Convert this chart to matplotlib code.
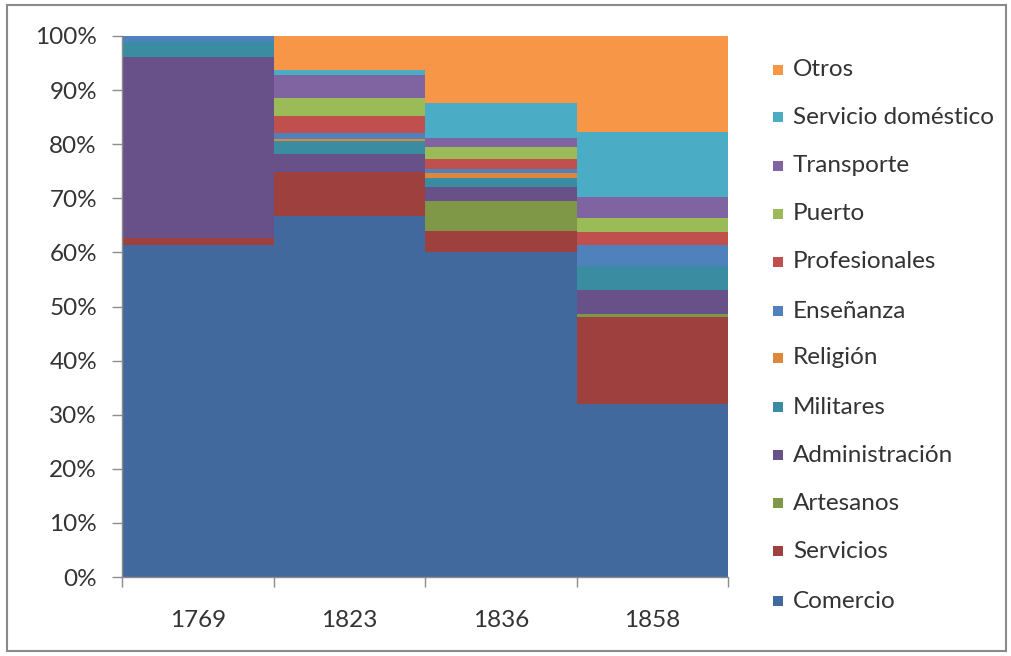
import matplotlib
matplotlib.use("Agg")
import matplotlib.pyplot as plt
from matplotlib.patches import Rectangle
from matplotlib.ticker import FuncFormatter, FixedLocator
import numpy as np

# Occupational structure by year (% of total), bottom to top of each column
years = ["1769", "1823", "1836", "1858"]
series = ["Comercio", "Servicios", "Artesanos", "Administración", "Militares",
          "Religión", "Enseñanza", "Profesionales", "Puerto", "Transporte",
          "Servicio doméstico", "Otros"]

comercio       = [61.4, 66.7, 60.1, 32.0]
servicios      = [1.2, 8.2, 3.9, 16.1]
artesanos      = [0.0, 0.0, 5.5, 0.5]
administracion = [33.5, 3.3, 2.6, 4.4]
militares      = [2.7, 2.3, 1.7, 4.4]
religion       = [0.0, 0.5, 0.9, 0.0]
ensenanza      = [1.2, 1.1, 0.7, 4.0]
profesionales  = [0.0, 3.1, 1.9, 2.4]
puerto         = [0.0, 3.3, 2.1, 2.6]
transporte     = [0.0, 4.2, 1.7, 3.8]
serv_domestico = [0.0, 1.0, 6.6, 12.1]
otros          = [0.0, 6.3, 12.3, 17.7]

values = [comercio, servicios, artesanos, administracion, militares, religion,
          ensenanza, profesionales, puerto, transporte, serv_domestico, otros]

colors = ["#42699D", "#9E413E", "#7E9847", "#685088", "#3A8CA1", "#DD873B",
          "#4F81BD", "#C0504D", "#9BBB59", "#8064A2", "#4BACC6", "#F79646"]

plt.rcParams["font.family"] = ["Lato", "DejaVu Sans"]
text_color = "#333333"
axis_color = "#8C8C8C"
fs = 17.5

W, H = 1011, 656
fig = plt.figure(figsize=(W / 100, H / 100), dpi=100)
fig.patch.set_facecolor("white")

ax = fig.add_axes([122 / W, (H - 577) / H, (728 - 122) / W, (577 - 36) / H])

x = np.arange(len(years))
bottom = np.zeros(len(years))
for name, vals, col in zip(series, values, colors):
    v = np.array(vals, dtype=float)
    ax.bar(x, v, width=1.0, bottom=bottom, color=col, edgecolor="none",
           label=name, align="center")
    bottom += v

ax.set_xlim(-0.5, len(years) - 0.5)
ax.set_ylim(0, 100)

ax.yaxis.set_major_locator(FixedLocator(np.arange(0, 101, 10)))
ax.yaxis.set_major_formatter(FuncFormatter(lambda v, p: f"{int(v)}%"))
ax.set_xticks(x)
ax.set_xticklabels(years)
ax.set_xticks(np.arange(-0.5, len(years)), minor=True)

ax.tick_params(axis="y", which="major", length=7, width=1, color=axis_color,
               labelsize=fs, labelcolor=text_color, pad=11)
ax.tick_params(axis="x", which="major", length=0, labelsize=fs,
               labelcolor=text_color, pad=24)
ax.tick_params(axis="x", which="minor", length=7, width=1, color=axis_color)

for side in ("top", "right"):
    ax.spines[side].set_visible(False)
for side in ("left", "bottom"):
    ax.spines[side].set_color(axis_color)
    ax.spines[side].set_linewidth(1)

# Legend, listed top to bottom in reverse stacking order
row_y = [70, 117, 166, 214, 262, 311, 358, 407, 455, 503, 551, 601]
for yy, name, col in zip(row_y, series[::-1], colors[::-1]):
    fig.add_artist(Rectangle((773 / W, (H - yy - 5) / H), 10 / W, 10 / H,
                             transform=fig.transFigure, facecolor=col,
                             edgecolor="none"))
    fig.text(793 / W, (H - yy) / H, name, fontsize=fs, color=text_color,
             va="center", ha="left")

# Chart frame
fig.add_artist(Rectangle((7 / W, 5 / H), (1006 - 7) / W, (651 - 5) / H,
                         transform=fig.transFigure, facecolor="none",
                         edgecolor="#8A8A8A", linewidth=1.5))

fig.savefig("out.png", dpi=100, facecolor="white")
